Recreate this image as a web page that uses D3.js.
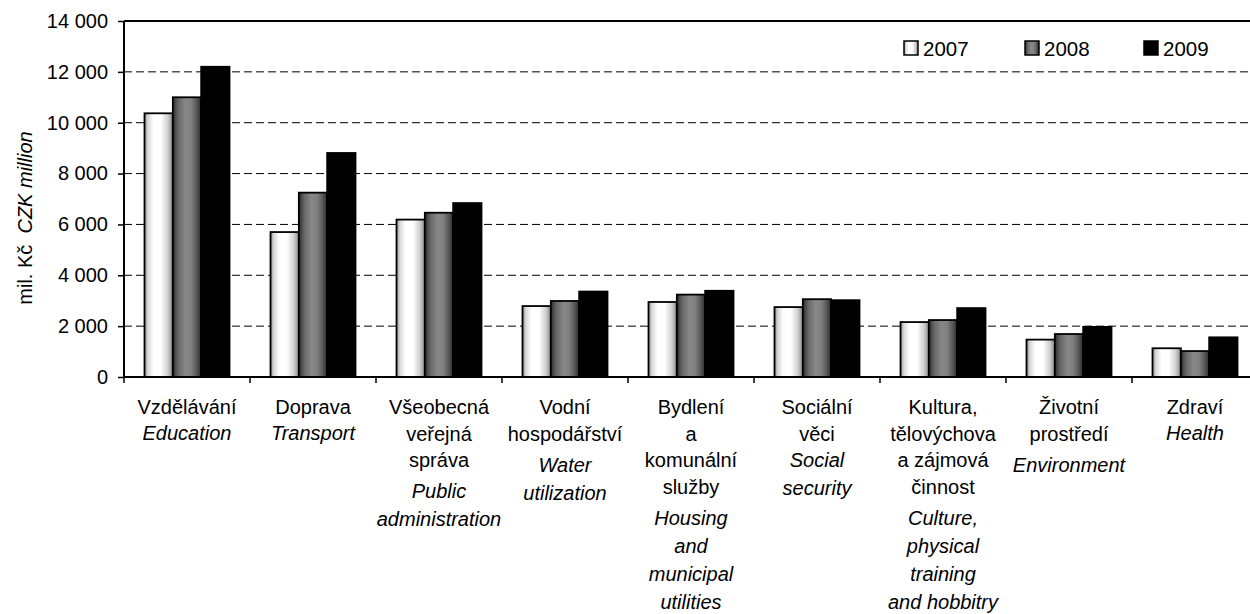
<!DOCTYPE html>
<html><head><meta charset="utf-8">
<script src="https://cdn.jsdelivr.net/npm/d3@7/dist/d3.min.js"></script>
<style>
html,body{margin:0;padding:0;background:#fff;}
svg{display:block;font-family:"Liberation Sans",Arial,sans-serif;}
</style></head>
<body>
<svg id="chart" width="1250" height="614"></svg>
<script>
const categories = ["Vzdělávání","Doprava","Všeobecná veřejná správa","Vodní hospodářství","Bydlení a komunální služby","Sociální věci","Kultura, tělovýchova a zájmová činnost","Životní prostředí","Zdraví"];
const labelsCz = [["Vzdělávání"],["Doprava"],["Všeobecná","veřejná","správa"],["Vodní","hospodářství"],["Bydlení","a","komunální","služby"],["Sociální","věci"],["Kultura,","tělovýchova","a zájmová","činnost"],["Životní","prostředí"],["Zdraví"]];
const labelsEn = [["Education"],["Transport"],["Public","administration"],["Water","utilization"],["Housing","and","municipal","utilities"],["Social","security"],["Culture,","physical","training","and hobbitry"],["Environment"],["Health"]];
const labelGap = [false,false,true,true,true,false,true,true,false];
const seriesNames = ["2007","2008","2009"];
const values2007 = [10370,5700,6190,2790,2950,2750,2160,1470,1130];
const values2008 = [11000,7250,6460,2990,3240,3060,2240,1690,1020];
const values2009 = [12200,8810,6840,3360,3390,3020,2710,1970,1560];
const yTicks = [0,2000,4000,6000,8000,10000,12000,14000];
const yTitleCz = "mil. Kč";
const yTitleEn = "CZK million";

const seriesValues = [values2007, values2008, values2009];
const svg = d3.select("#chart");
const L = 124, T = 21, B = 377, R = 1258;

const defs = svg.append("defs");
function grad(id, stops){
  const g = defs.append("linearGradient").attr("id", id).attr("x1","0%").attr("x2","100%").attr("y1","0%").attr("y2","0%");
  stops.forEach(s => g.append("stop").attr("offset", s[0]).attr("stop-color", s[1]));
}
grad("g2007", [["0%","#8e8e8e"],["12%","#d8d8d8"],["32%","#ffffff"],["58%","#ffffff"],["82%","#d0d0d0"],["100%","#8a8a8a"]]);
grad("g2008", [["0%","#2e2e2e"],["20%","#686868"],["45%","#888888"],["65%","#808080"],["85%","#555555"],["100%","#2a2a2a"]]);
const fills = ["url(#g2007)","url(#g2008)","#000"];

const x = d3.scaleBand().domain(categories).range([L, R]).padding(0);
const bw = x.bandwidth();
const xi = d3.scaleBand().domain(seriesNames).range([20.5, bw - 20.5]).padding(0);
const y = d3.scaleLinear().domain([0, 14000]).range([B, T]);

const fmt = d3.formatLocale({decimal:",", thousands:" ", grouping:[3], currency:["",""]}).format(",d");

// gridlines
svg.append("g").selectAll("line").data(yTicks.filter(t => t > 0 && t < 14000)).join("line")
  .attr("x1", L).attr("x2", 1250).attr("y1", d => y(d)).attr("y2", d => y(d))
  .attr("stroke", "#000").attr("stroke-width", 1).attr("stroke-dasharray", "8,4");

// bars
const gBars = svg.append("g");
seriesValues.forEach((vals, si) => {
  gBars.append("g").selectAll("rect").data(vals).join("rect")
    .attr("x", (d, i) => x(categories[i]) + xi(seriesNames[si]))
    .attr("width", xi.bandwidth())
    .attr("y", d => y(d))
    .attr("height", d => B - y(d))
    .attr("fill", fills[si])
    .attr("stroke", "#000").attr("stroke-width", 1.8);
});

// frame
svg.append("line").attr("x1", L).attr("x2", 1250).attr("y1", T).attr("y2", T).attr("stroke", "#000").attr("stroke-width", 2);

// y axis
const yAxis = d3.axisLeft(y).tickValues(yTicks).tickFormat(fmt).tickSize(6).tickPadding(10);
const gy = svg.append("g").attr("transform", `translate(${L},0)`).call(yAxis);
gy.select(".domain").attr("stroke-width", 2).attr("d", `M0,${T}V${B}`);
gy.selectAll(".tick line").attr("stroke-width", 1.5);
gy.selectAll(".tick text").attr("font-size", 20).attr("font-family", '"Liberation Sans",Arial,sans-serif').attr("fill", "#000");

// x axis
const xAxis = d3.axisBottom(x).tickSize(0).tickFormat("");
const gx = svg.append("g").attr("transform", `translate(0,${B})`).call(xAxis);
gx.select(".domain").attr("stroke-width", 2).attr("d", `M${L},0H1250`);
gx.selectAll(".tick").remove();
gx.selectAll("line.bt").data(categories).join("line").attr("class","bt")
  .attr("x1", d => x(d)).attr("x2", d => x(d)).attr("y1", 0).attr("y2", 6)
  .attr("stroke", "#000").attr("stroke-width", 1.5);

// category labels
const gl = svg.append("g").attr("font-size", 20).attr("text-anchor", "middle").attr("fill", "#000");
categories.forEach((c, i) => {
  const cx = x(c) + bw / 2;
  let yy = 414;
  labelsCz[i].forEach((t, k) => {
    if (k > 0) yy += 26.5;
    gl.append("text").attr("x", cx).attr("y", yy).text(t);
  });
  yy += labelGap[i] ? 31 : 26;
  labelsEn[i].forEach((t, k) => {
    if (k > 0) yy += 28;
    gl.append("text").attr("x", cx).attr("y", yy).attr("font-style", "italic").text(t);
  });
});

// y title
const yt = svg.append("text").attr("transform", "translate(32,218) rotate(-90)").attr("text-anchor", "middle").attr("font-size", 20).attr("fill", "#000");
yt.append("tspan").text(yTitleCz + "\u00a0\u00a0");
yt.append("tspan").attr("font-style", "italic").text(yTitleEn);

// legend
const legX = [904, 1025, 1144];
const lg = svg.append("g");
seriesNames.forEach((s, i) => {
  lg.append("rect").attr("x", legX[i]).attr("y", 41).attr("width", 14).attr("height", 14)
    .attr("fill", fills[i]).attr("stroke", "#000").attr("stroke-width", 1.5);
  lg.append("text").attr("x", legX[i] + 19).attr("y", 56).attr("font-size", 20.5).attr("fill", "#000").text(s);
});
</script>
</body></html>
